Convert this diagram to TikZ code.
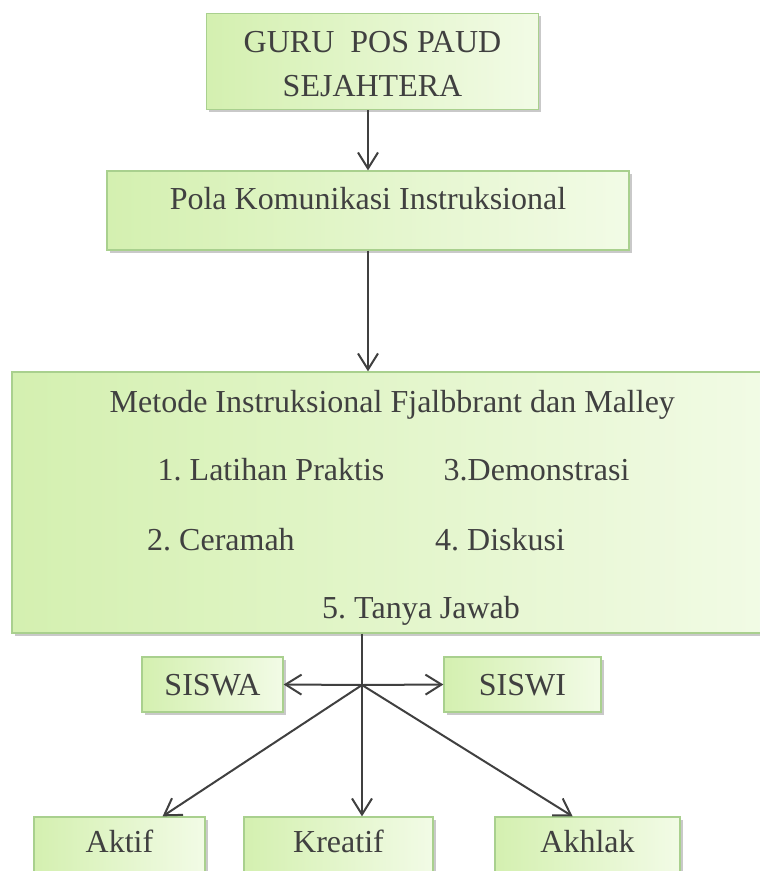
\documentclass[tikz,border=0pt]{standalone}
\usepackage{fontspec}
\setmainfont{Liberation Serif}
\frenchspacing
\usetikzlibrary{arrows.meta,shadows,calc}
\definecolor{boxline}{HTML}{A9D08E}
\definecolor{gleft}{HTML}{D4F0B0}
\definecolor{gright}{HTML}{F2FBE6}
\definecolor{ink}{HTML}{404040}
\tikzset{
  gbox/.style={draw=boxline, line width=1.3pt, left color=gleft, right color=gright,
    drop shadow={shadow xshift=2.5pt, shadow yshift=-2.5pt, opacity=0.3, fill=black!70},
    inner sep=0pt, text=ink, align=center, font=\fontsize{32}{44}\selectfont},
  lbl/.style={text=ink, inner sep=0pt, font=\fontsize{32}{40}\selectfont},
  conn/.style={draw=ink, line width=2pt, -{Straight Barb[length=16pt,width=20pt,line width=2pt]}},
  plainline/.style={draw=ink, line width=2pt},
}
\begin{document}
\begin{tikzpicture}[x=1pt,y=-1pt]
\useasboundingbox (0,0) rectangle (760,871);
% boxes
\node[gbox, minimum width=332pt, minimum height=96pt] (guru) at (372.5,61.5)
  {\raisebox{-4pt}[\height][\depth]{\begin{tabular}{@{}c@{}}GURU\ \ POS PAUD\\[0pt]SEJAHTERA\end{tabular}}};
\node[gbox, minimum width=522pt, minimum height=79pt, text height=22pt, text depth=25pt] (pola) at (368,210.5)
  {Pola Komunikasi Instruksional};
\node[gbox, minimum width=768pt, minimum height=261pt] (metode) at (396,502.5) {};
\node[gbox, minimum width=141pt, minimum height=55pt, text height=22pt, text depth=0pt] (siswa) at (212.5,684.5) {SISWA};
\node[gbox, minimum width=157pt, minimum height=55pt, text height=22pt, text depth=0pt] (siswi) at (522.5,684.5) {SISWI};
\node[gbox, minimum width=171pt, minimum height=60pt, text height=22pt, text depth=12pt] (aktif) at (119.5,847) {Aktif};
\node[gbox, minimum width=189pt, minimum height=60pt, text height=22pt, text depth=12pt] (kreatif) at (338.5,847) {Kreatif};
\node[gbox, minimum width=185pt, minimum height=60pt, text height=22pt, text depth=12pt] (akhlak) at (587.5,847) {Akhlak};
% texts inside the method box
\node[lbl, anchor=base west] (t0) at (109.5,412) {Metode Instruksional Fjalbbrant dan Malley};
\node[lbl, anchor=base west] (t1) at (157.5,480) {1. Latihan Praktis};
\node[lbl, anchor=base west] (t3) at (443.5,480) {3.Demonstrasi};
\node[lbl, anchor=base west] (t2) at (147,550) {2. Ceramah};
\node[lbl, anchor=base west] (t4) at (435,550) {4. Diskusi};
\node[lbl, anchor=base west] (t5) at (322,618) {5. Tanya Jawab};
% connectors
\coordinate (j) at (362,685);
\draw[conn] (guru.south -| pola.north) -- (pola.north);
\draw[conn] (pola.south) -- (pola.south |- metode.north);
\draw[plainline] (j |- metode.south) -- (j);
\draw[conn] (j) -- (siswa.east);
\draw[conn] (j) -- (siswi.west);
\coordinate (ta) at ($(aktif.north west)!0.75!(aktif.north east)$);
\coordinate (tk) at (j |- kreatif.north);
\coordinate (th) at ($(akhlak.north west)!0.42!(akhlak.north east)$);
\draw[conn] (j) -- (ta);
\draw[conn] (j) -- (tk);
\draw[conn] (j) -- (th);
\end{tikzpicture}
\end{document}
